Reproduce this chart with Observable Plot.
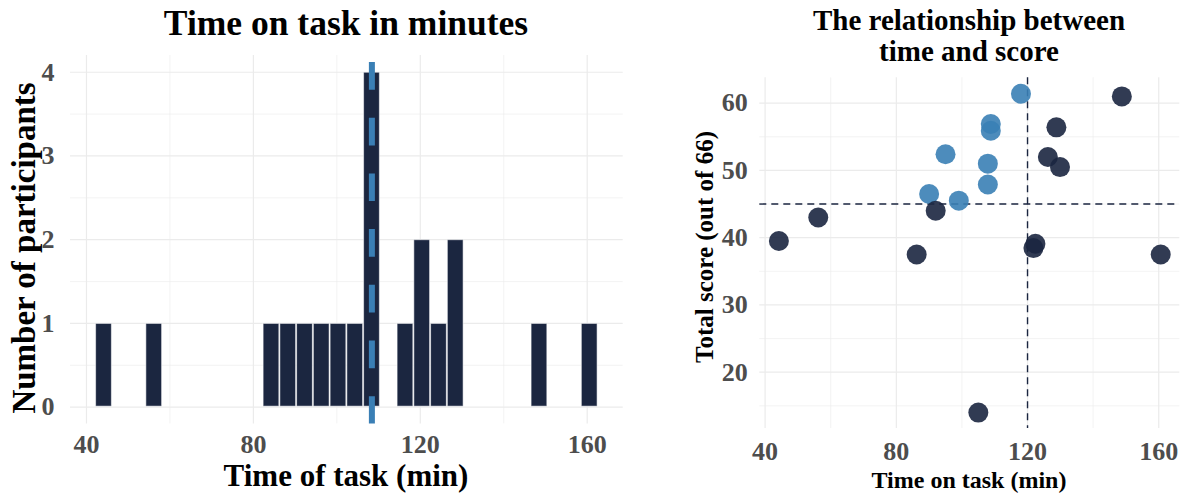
<!DOCTYPE html>
<html><head><meta charset="utf-8">
<script src="https://cdn.jsdelivr.net/npm/d3@7"></script>
<script src="https://cdn.jsdelivr.net/npm/@observablehq/plot@0.6"></script>
<style>
body{margin:0;background:#fff;}
#wrap{position:relative;width:1191px;height:496px;overflow:hidden;font-family:"Liberation Serif","Times New Roman",serif;}
.t{position:absolute;font-weight:bold;color:#000;white-space:nowrap;line-height:1;transform:translate(-50%,-50%);text-align:center;}
.r{transform:translate(-50%,-50%) rotate(-90deg);}
#left,#right{position:absolute;top:0;}
</style></head><body>
<div id="wrap">
  <div id="left" style="left:0"></div>
  <div id="right" style="left:640px"></div>
  <div class="t" style="left:346px;top:23.5px;font-size:35.5px">Time on task in minutes</div>
  <div class="t" style="left:969px;top:35.5px;font-size:29px;line-height:31px">The relationship between<br>time and score</div>
  <div class="t" style="left:346px;top:475px;font-size:31px">Time of task (min)</div>
  <div class="t" style="left:969px;top:480px;font-size:24px">Time on task (min)</div>
  <div class="t r" style="left:24px;top:248px;font-size:33px">Number of participants</div>
  <div class="t r" style="left:704px;top:247px;font-size:25px">Total score (out of 66)</div>
</div>
<script>
// Data: time on task (min) and total score (out of 66) for each participant
const times  = [44.2, 56.2, 86.2, 90.0, 92.0, 95.0, 99.05, 105.0, 107.9, 107.9, 108.8, 108.8, 118.0, 121.8, 122.4, 126.2, 128.8, 129.9, 148.75, 160.6];
const scores = [39.5, 43.0, 37.5, 46.5, 44.0, 52.4, 45.5, 14.0, 47.9, 51.0, 55.9, 56.9, 61.4, 38.45, 39.1, 52.0, 56.4, 50.5, 61.0, 37.5];
const histRef = 108.4;   // reference line in histogram
const timeRef = 120;     // vertical reference in scatter
const scoreRef = 45;     // horizontal reference in scatter
const xTicks = [40, 80, 120, 160];
const xMinor = [60, 100, 140];
const countTicks = [0, 1, 2, 3, 4];
const countMinor = [0.5, 1.5, 2.5, 3.5];
const scoreTicks = [20, 30, 40, 50, 60];
const scoreMinor = [15, 25, 35, 45, 55];

const navy = "#1b2640", blue = "#3a7fb5", grid = "#ebebeb";
const baseStyle = {fontFamily: '"Liberation Serif", serif', fontWeight: "bold", color: "#4d4d4d", background: "transparent"};

// histogram bins like ggplot's default 30 bins
const lo = d3.min(times), hi = d3.max(times);
const w = (hi - lo) / 29;
const edges = d3.range(31).map(k => lo - w / 2 + k * w);
const bins = d3.bin().domain([edges[0], edges[30]]).thresholds(edges.slice(1, 30))(times).filter(b => b.length > 0);
const pad = (edges[30] - edges[0]) * 0.05;

const left = Plot.plot({
  width: 640, height: 496,
  marginLeft: 70, marginRight: 17.3, marginTop: 55, marginBottom: 72.6,
  style: {...baseStyle, fontSize: "26px"},
  x: {domain: [edges[0] - pad, edges[30] + pad]},
  y: {domain: [-0.2, 4.2]},
  marks: [
    Plot.ruleX(xMinor, {stroke: grid, strokeWidth: 0.6}),
    Plot.ruleY(countMinor, {stroke: grid, strokeWidth: 0.6}),
    Plot.ruleX(xTicks, {stroke: grid, strokeWidth: 1.2}),
    Plot.ruleY(countTicks, {stroke: grid, strokeWidth: 1.2}),
    Plot.rectY(bins, {x1: "x0", x2: "x1", y1: 0, y2: d => d.length, fill: navy, inset: 0.5, stroke: "#ffffff", strokeOpacity: 0.55, strokeWidth: 1}),
    Plot.ruleX([histRef], {stroke: blue, strokeWidth: 6, strokeDasharray: "27.7,28", strokeDashoffset: 48.7}),
    Plot.axisX(xTicks, {tickSize: 0, tickPadding: 11, label: null, tickFormat: "d"}),
    Plot.axisY(countTicks, {tickSize: 0, tickPadding: 16, label: null, tickFormat: "d"})
  ]
});
document.getElementById("left").appendChild(left);

const idx = d3.range(times.length);
const xr = d3.extent(times), yr = d3.extent(scores);
const xp = (xr[1] - xr[0]) * 0.05, yp = (yr[1] - yr[0]) * 0.05;
const right = Plot.plot({
  width: 551, height: 496,
  marginLeft: 119.3, marginRight: 11.7, marginTop: 77.3, marginBottom: 68,
  style: {...baseStyle, fontSize: "26px"},
  x: {domain: [xr[0] - xp, xr[1] + xp]},
  y: {domain: [yr[0] - yp, yr[1] + yp]},
  color: {type: "identity"},
  marks: [
    Plot.ruleX(xMinor, {stroke: grid, strokeWidth: 0.6}),
    Plot.ruleY(scoreMinor, {stroke: grid, strokeWidth: 0.6}),
    Plot.ruleX(xTicks, {stroke: grid, strokeWidth: 1.2}),
    Plot.ruleY(scoreTicks, {stroke: grid, strokeWidth: 1.2}),
    Plot.ruleX([timeRef], {stroke: navy, strokeWidth: 1.4, strokeDasharray: "7,5"}),
    Plot.ruleY([scoreRef], {stroke: navy, strokeWidth: 1.4, strokeDasharray: "7,5"}),
    Plot.dot(idx, {x: i => times[i], y: i => scores[i], r: 10,
      fill: i => (times[i] < timeRef && scores[i] > scoreRef) ? blue : navy, fillOpacity: 0.9, stroke: "none"}),
    Plot.axisX(xTicks, {tickSize: 0, tickPadding: 13, label: null, tickFormat: "d"}),
    Plot.axisY(scoreTicks, {tickSize: 0, tickPadding: 12, label: null, tickFormat: "d"})
  ]
});
document.getElementById("right").appendChild(right);
</script>
</body></html>
